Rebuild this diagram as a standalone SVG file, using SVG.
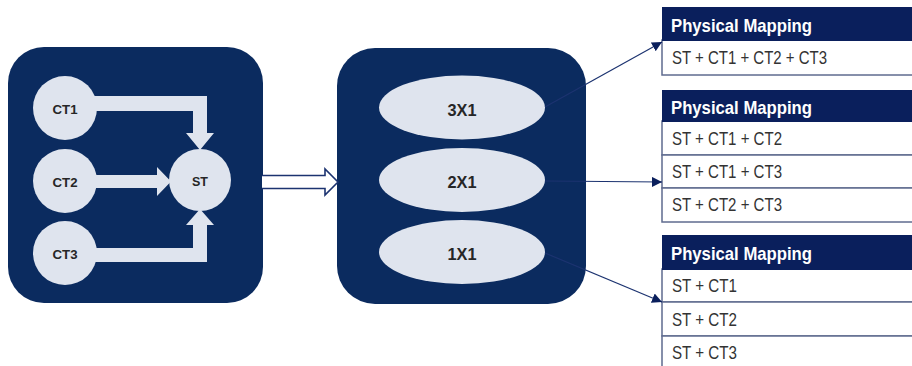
<svg xmlns="http://www.w3.org/2000/svg" width="912" height="366" viewBox="0 0 912 366">
  <defs>
    <style>
      .panel { fill: #0b2b5f; }
      .light { fill: #dfe4ee; }
      .lbl { font-family: "Liberation Sans", Arial, sans-serif; font-weight: bold; fill: #262626; text-anchor: middle; }
      .hdr { fill: #0a1f5c; }
      .hdrtxt { font-family: "Liberation Sans", Arial, sans-serif; font-weight: bold; font-size: 19px; fill: #ffffff; }
      .row { fill: #ffffff; stroke: #5f6b8f; stroke-width: 1.5; }
      .rowtxt { font-family: "Liberation Sans", Arial, sans-serif; font-size: 18px; fill: #333333; }
      .conn { fill: none; stroke: #1c3370; stroke-width: 1.2; }
    </style>
    <marker id="tri" viewBox="0 0 10 10" refX="10" refY="5" markerWidth="10" markerHeight="10" markerUnits="userSpaceOnUse" orient="auto">
      <path d="M0,0 L10,5 L0,10 Z" fill="#0a1f5c"/>
    </marker>
  </defs>

  <rect width="912" height="366" fill="#ffffff"/>

  <!-- Left panel: CT nodes feeding ST -->
  <g id="panel-topology">
    <rect class="panel" x="8" y="47" width="255" height="256" rx="36"/>
    <!-- block arrows -->
    <path class="light" d="M90 96 H207 V133 H214 L200 150 L186 133 H193 V111 H90 Z"/>
    <path class="light" d="M90 175 H157 V167 L171 181.5 L157 196 V188 H90 Z"/>
    <path class="light" d="M90 248 H193 V225 H186 L200 209 L214 225 H207 V262 H90 Z"/>
  </g>
  <g id="node-ct1">
    <circle class="light" cx="65" cy="108" r="32"/>
    <text class="lbl" x="65" y="114" font-size="13.5" textLength="25" lengthAdjust="spacingAndGlyphs">CT1</text>
  </g>
  <g id="node-ct2">
    <circle class="light" cx="65" cy="181" r="32"/>
    <text class="lbl" x="65" y="187" font-size="13.5" textLength="25" lengthAdjust="spacingAndGlyphs">CT2</text>
  </g>
  <g id="node-ct3">
    <circle class="light" cx="65" cy="253" r="32"/>
    <text class="lbl" x="65" y="259" font-size="13.5" textLength="25" lengthAdjust="spacingAndGlyphs">CT3</text>
  </g>
  <g id="node-st">
    <circle class="light" cx="200" cy="180" r="31"/>
    <text class="lbl" x="200" y="186" font-size="13.5" textLength="16" lengthAdjust="spacingAndGlyphs">ST</text>
  </g>

  <!-- Middle panel: configurations -->
  <g id="panel-configs">
    <rect class="panel" x="337" y="48" width="249" height="256" rx="38"/>
  </g>
  <g id="node-3x1">
    <ellipse class="light" cx="462" cy="107.5" rx="83" ry="32"/>
    <text class="lbl" x="462" y="115.5" font-size="16.5" textLength="29" lengthAdjust="spacingAndGlyphs">3X1</text>
  </g>
  <g id="node-2x1">
    <ellipse class="light" cx="462" cy="180" rx="83" ry="32"/>
    <text class="lbl" x="462" y="188" font-size="16.5" textLength="29" lengthAdjust="spacingAndGlyphs">2X1</text>
  </g>
  <g id="node-1x1">
    <ellipse class="light" cx="462" cy="252" rx="83" ry="32"/>
    <text class="lbl" x="462" y="260" font-size="16.5" textLength="29" lengthAdjust="spacingAndGlyphs">1X1</text>
  </g>

  <!-- Mapping tables -->
  <g id="table-3x1">
    <rect class="row" x="662" y="40" width="260" height="35"/>
    <rect class="hdr" x="662" y="7" width="260" height="34"/>
    <text class="hdrtxt" x="671" y="32" textLength="141" lengthAdjust="spacingAndGlyphs">Physical Mapping</text>
    <text class="rowtxt" x="672" y="64" textLength="155" lengthAdjust="spacingAndGlyphs">ST + CT1 + CT2 + CT3</text>
  </g>
  <g id="table-2x1">
    <rect class="row" x="662" y="121" width="260" height="34"/>
    <rect class="row" x="662" y="155" width="260" height="33"/>
    <rect class="row" x="662" y="188" width="260" height="34"/>
    <rect class="hdr" x="662" y="90" width="260" height="32"/>
    <text class="hdrtxt" x="671" y="114" textLength="141" lengthAdjust="spacingAndGlyphs">Physical Mapping</text>
    <text class="rowtxt" x="672" y="145" textLength="110" lengthAdjust="spacingAndGlyphs">ST + CT1 + CT2</text>
    <text class="rowtxt" x="672" y="178" textLength="110" lengthAdjust="spacingAndGlyphs">ST + CT1 + CT3</text>
    <text class="rowtxt" x="672" y="211" textLength="110" lengthAdjust="spacingAndGlyphs">ST + CT2 + CT3</text>
  </g>
  <g id="table-1x1">
    <rect class="row" x="662" y="269" width="260" height="33"/>
    <rect class="row" x="662" y="302" width="260" height="34"/>
    <rect class="row" x="662" y="336" width="260" height="40"/>
    <rect class="hdr" x="662" y="235" width="260" height="35"/>
    <text class="hdrtxt" x="671" y="260" textLength="141" lengthAdjust="spacingAndGlyphs">Physical Mapping</text>
    <text class="rowtxt" x="672" y="292" textLength="65" lengthAdjust="spacingAndGlyphs">ST + CT1</text>
    <text class="rowtxt" x="672" y="326" textLength="65" lengthAdjust="spacingAndGlyphs">ST + CT2</text>
    <text class="rowtxt" x="672" y="359" textLength="65" lengthAdjust="spacingAndGlyphs">ST + CT3</text>
  </g>

  <!-- Connectors -->
  <g id="connectors">
    <path d="M262 175.5 H325 V169 L338 182 L325 195 V188.5 H262" fill="#ffffff" stroke="#1c3370" stroke-width="1.6" stroke-linejoin="miter"/>
    <line class="conn" x1="545" y1="107" x2="662" y2="42" marker-end="url(#tri)"/>
    <line class="conn" x1="545" y1="181" x2="662" y2="182" marker-end="url(#tri)"/>
    <line class="conn" x1="545" y1="253" x2="662" y2="302" marker-end="url(#tri)"/>
  </g>
</svg>
